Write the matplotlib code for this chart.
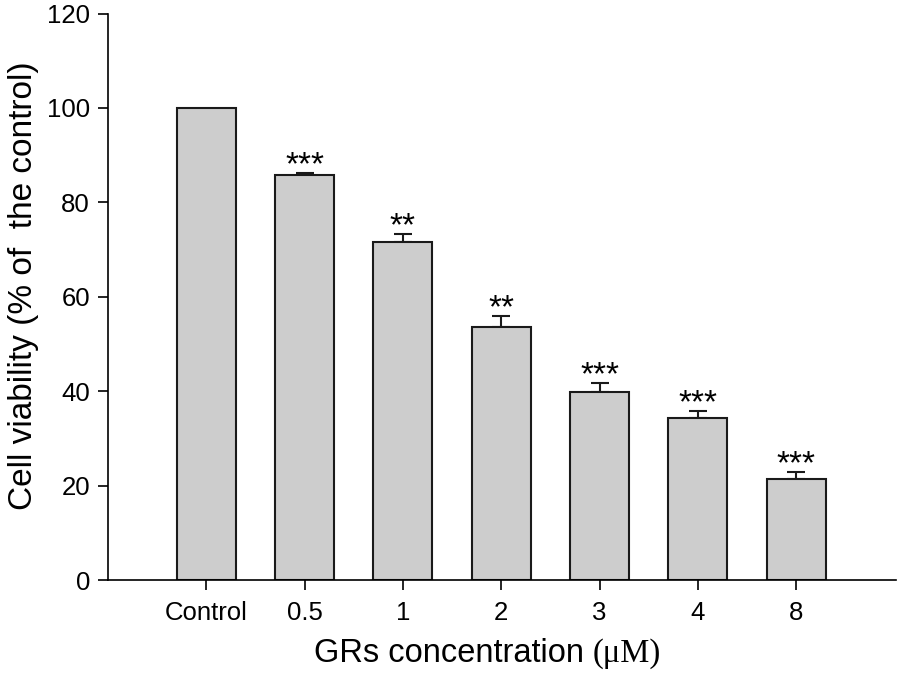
import matplotlib.pyplot as plt

# data
groups = ["Control", "0.5", "1", "2", "3", "4", "8"]
viability = [100, 85.8, 71.7, 53.5, 39.9, 34.3, 21.5]
errors = [0, 0.5, 1.6, 2.5, 1.8, 1.6, 1.4]
stars = ["", "***", "**", "**", "***", "***", "***"]

plt.rcParams["font.family"] = ["Liberation Sans", "DejaVu Sans"]

fig = plt.figure(figsize=(8.98, 6.76), dpi=100)
ax = fig.add_axes([0.1203, 0.142, 0.878, 0.838])

x = range(len(groups))
ax.bar(x, viability, width=0.6, color="#cdcdcd", edgecolor="#1a1a1a", linewidth=1.5, zorder=2)
ax.errorbar(x[1:], viability[1:], yerr=[[0] * 6, errors[1:]], fmt="none",
            ecolor="#1a1a1a", elinewidth=1.5, capsize=6.5, capthick=1.5, zorder=1)

# significance stars just above the error caps
for i, s in enumerate(stars):
    if s:
        ax.text(i, viability[i] + errors[i] - 0.3, s, ha="center", va="baseline",
                fontsize=24)

ax.set_xlim(-1, 7.02)
ax.set_ylim(0, 120)
ax.set_yticks(range(0, 121, 20))
ax.set_xticks(list(x))
ax.set_xticklabels(groups)
ax.tick_params(labelsize=18.5, length=7, width=1.2, direction="out", pad=6)
ax.tick_params(axis="x", pad=8)

for side in ["top", "right"]:
    ax.spines[side].set_visible(False)
for side in ["left", "bottom"]:
    ax.spines[side].set_linewidth(1.2)

ax.set_ylabel("Cell viability (% of  the control)", fontsize=24)
ax.yaxis.set_label_coords(-0.088, 0.52)
fig.text(0.66, 0.01, "GRs concentration ", fontsize=23.5, ha="right", va="bottom")
fig.text(0.66, 0.01, "(\u03bcM)", fontsize=23.5, ha="left", va="bottom",
         family=["Liberation Serif", "DejaVu Serif"])

fig.savefig("out.png", dpi=100)
